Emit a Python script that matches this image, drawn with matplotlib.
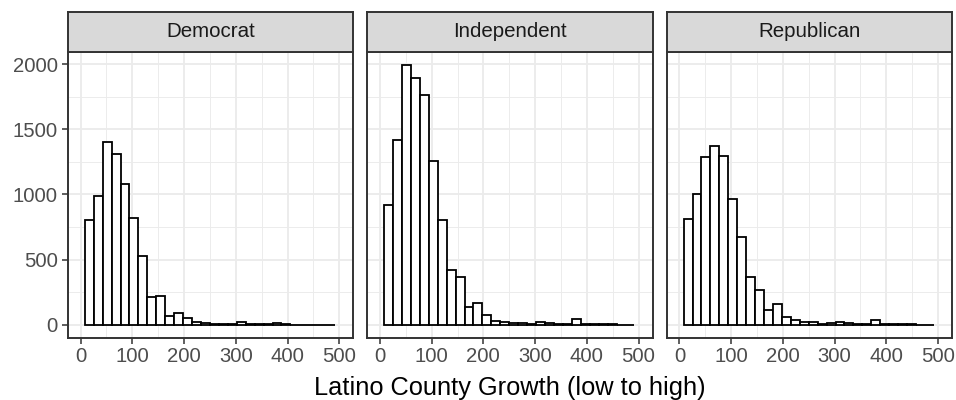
import numpy as np
import matplotlib
matplotlib.use("Agg")
import matplotlib.pyplot as plt

plt.rcParams['font.family'] = ['Liberation Sans', 'DejaVu Sans']

# bins: 28 bins from about 8 to 492
edges = np.linspace(8, 492, 29)

parties = ["Democrat", "Independent", "Republican"]
dem = [803, 989, 1399, 1310, 1080, 820, 525, 209, 222, 69, 89, 51, 23, 12,
       6, 5, 6, 20, 5, 4, 3, 15, 2, 1, 1, 1, 0, 1]
ind = [922, 1417, 1995, 1891, 1763, 1254, 803, 423, 367, 132, 166, 71, 31, 20,
       13, 10, 8, 23, 10, 6, 5, 41, 3, 3, 8, 2, 1, 1]
rep = [810, 1006, 1289, 1373, 1294, 966, 675, 364, 268, 115, 158, 56, 36, 18,
       23, 8, 12, 18, 10, 8, 5, 38, 3, 2, 4, 2, 1, 1]
counts = [dem, ind, rep]

x_ticks = [0, 100, 200, 300, 400, 500]
y_ticks = [0, 500, 1000, 1500, 2000]
x_label = "Latino County Growth (low to high)"

W, H = 956, 400
fig = plt.figure(figsize=(W / 100, H / 100), dpi=100)

lefts = [67.7, 367.0, 666.5]
pw = 285.5
top, bottom = 51.7, 337.7
strip_top = 11.7

ymax = max(max(c) for c in counts)
border = "#333333"

for i, (name, c) in enumerate(zip(parties, counts)):
    ax = fig.add_axes([lefts[i] / W, 1 - bottom / H, pw / W, (bottom - top) / H])
    ax.set_xlim(-25, 527)
    ax.set_ylim(-0.05 * ymax, 1.05 * ymax)
    ax.set_xticks(x_ticks)
    ax.set_xticks([50, 150, 250, 350, 450], minor=True)
    ax.set_yticks(y_ticks)
    ax.set_yticks([250, 750, 1250, 1750], minor=True)
    ax.grid(which="major", color="#EBEBEB", linewidth=1.3)
    ax.grid(which="minor", color="#EBEBEB", linewidth=0.65)
    ax.set_axisbelow(True)
    ax.bar(edges[:-1], c, width=np.diff(edges), align="edge",
           facecolor="white", edgecolor="black", linewidth=1.3)
    for s in ax.spines.values():
        s.set_color(border)
        s.set_linewidth(1.4)
    ax.tick_params(which="major", length=4, width=1.1, color=border,
                   labelsize=14.6, labelcolor="#4D4D4D", pad=3)
    ax.tick_params(which="minor", length=0)
    if i > 0:
        ax.tick_params(axis="y", left=False, labelleft=False)

    # facet strip
    sx = fig.add_axes([lefts[i] / W, 1 - top / H, pw / W, (top - strip_top) / H])
    sx.set_facecolor("#D9D9D9")
    sx.set_xticks([])
    sx.set_yticks([])
    for s in sx.spines.values():
        s.set_color(border)
        s.set_linewidth(1.4)
    sx.text(0.5, 0.5, name, ha="center", va="center", fontsize=14.8,
            color="#1A1A1A", transform=sx.transAxes)

fig.text((lefts[0] + lefts[2] + pw) / 2 / W, 1 - 388.5 / H, x_label,
         ha="center", va="center", fontsize=18.3, color="black")

fig.savefig("out.png", dpi=100)
